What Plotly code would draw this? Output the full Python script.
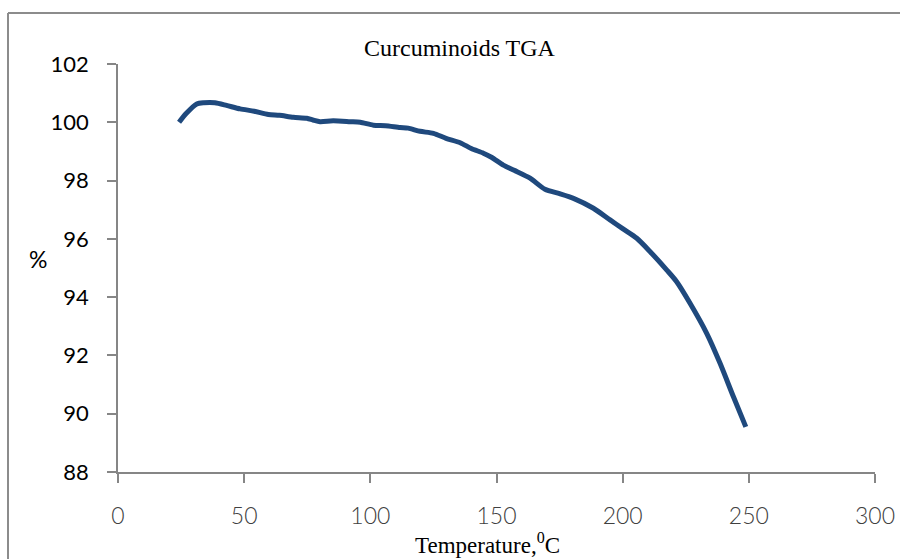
import plotly.graph_objects as go

# ---- data ----
temperature = [24.2, 27.0, 31.2, 34.0, 38.4, 43.0, 48.4, 54.0, 59.6, 64.0, 69.5, 74.8,
               77.5, 80.1, 85.3, 92.0, 96.0, 101.2, 106.0, 111.8, 115.0, 119.7, 125.0,
               130.0, 135.6, 140.0, 144.8, 148.0, 152.7, 157.0, 163.3, 169.2, 175.0,
               180.5, 188.4, 195.0, 200.0, 205.6, 211.0, 217.5, 221.4, 226.7, 233.3,
               238.6, 243.9, 248.8]
weight_pct = [100.00, 100.30, 100.63, 100.67, 100.67, 100.58, 100.46, 100.38, 100.27,
              100.24, 100.17, 100.14, 100.07, 100.02, 100.05, 100.02, 100.00, 99.90,
              99.88, 99.82, 99.80, 99.69, 99.62, 99.45, 99.30, 99.10, 98.94, 98.80,
              98.53, 98.35, 98.08, 97.70, 97.55, 97.39, 97.05, 96.65, 96.35, 96.02,
              95.55, 94.93, 94.53, 93.79, 92.76, 91.73, 90.58, 89.55]

x_ticks = [0, 50, 100, 150, 200, 250, 300]
y_ticks = [88, 90, 92, 94, 96, 98, 100, 102]

title_text = "Curcuminoids TGA"
x_title = "Temperature,<sup>0</sup>C"
y_title = "%"

# ---- layout geometry ----
W, H = 900, 559
L, R, T, B = 118, 25, 64, 87
pw, ph = W - L - R, H - T - B

def px_x(px):
    return (px - L) / pw

def px_y(py):
    return (H - B - py) / ph

axis_col = "#868686"

fig = go.Figure()
fig.add_trace(go.Scatter(
    x=temperature, y=weight_pct, mode="lines",
    line=dict(color="#1F497D", width=5, shape="spline", smoothing=0.7),
    showlegend=False, hoverinfo="x+y",
))

fig.update_layout(
    width=W, height=H, autosize=False,
    margin=dict(l=L, r=R, t=T, b=B, pad=0, autoexpand=False),
    paper_bgcolor="white", plot_bgcolor="white",
    showlegend=False,
    xaxis=dict(
        range=[0, 300], tickvals=x_ticks, ticktext=[str(v) for v in x_ticks],
        showgrid=False, zeroline=False, showline=True, linecolor=axis_col, linewidth=1.5,
        ticks="outside", ticklen=9, tickcolor=axis_col, tickwidth=1.5,
        tickfont=dict(family="Lato", size=23, color="#404040", weight=300),
        ticklabelstandoff=14, automargin=False,
    ),
    yaxis=dict(
        range=[88, 102], tickvals=y_ticks, ticktext=[str(v) for v in y_ticks],
        showgrid=False, zeroline=False, showline=True, linecolor=axis_col, linewidth=1.5,
        ticks="outside", ticklen=9, tickcolor=axis_col, tickwidth=1.5,
        tickfont=dict(family="Lato", size=22, color="black"),
        ticklabelstandoff=14, automargin=False,
    ),
    annotations=[
        dict(text=title_text, xref="paper", yref="paper", x=px_x(460), y=px_y(48),
             xanchor="center", yanchor="middle", showarrow=False,
             font=dict(family="Liberation Serif", size=24, color="black")),
        dict(text=x_title, xref="paper", yref="paper", x=px_x(487), y=px_y(543),
             xanchor="center", yanchor="middle", showarrow=False,
             font=dict(family="Liberation Serif", size=23, color="black")),
        dict(text=y_title, xref="paper", yref="paper", x=px_x(38), y=px_y(259),
             xanchor="center", yanchor="middle", showarrow=False,
             font=dict(family="Lato", size=23, color="black")),
    ],
    shapes=[
        dict(type="line", xref="paper", yref="paper",
             x0=px_x(8), y0=px_y(13), x1=px_x(905), y1=px_y(13),
             line=dict(color="#8c8c8c", width=2)),
        dict(type="line", xref="paper", yref="paper",
             x0=px_x(8), y0=px_y(13), x1=px_x(8), y1=px_y(565),
             line=dict(color="#8c8c8c", width=2)),
    ],
)

fig.write_html("out.html", config={"displayModeBar": False, "responsive": False})

# remove the browser's default page margin so the figure sits at the top-left corner
with open("out.html", "r", encoding="utf-8") as f:
    html = f.read()
html = html.replace("<body>", '<body style="margin:0;padding:0;overflow:hidden;">', 1)
with open("out.html", "w", encoding="utf-8") as f:
    f.write(html)
